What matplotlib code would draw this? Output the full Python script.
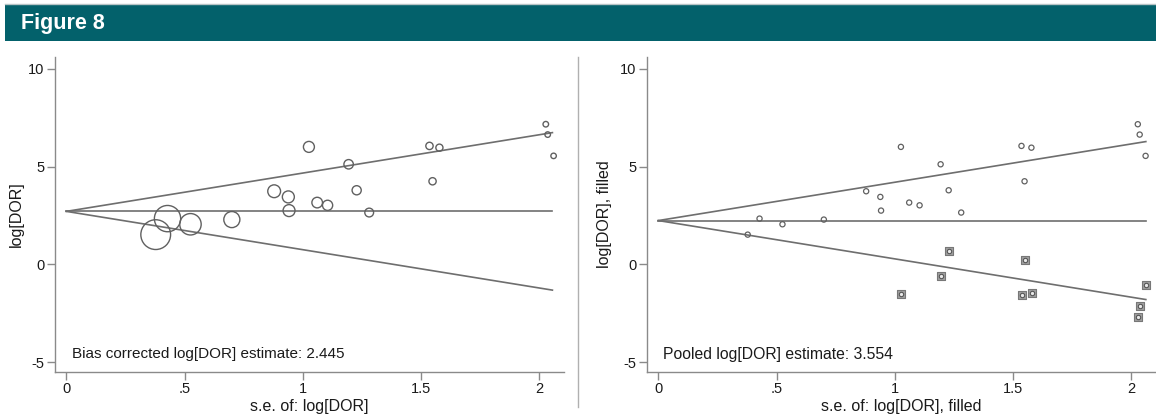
import matplotlib
matplotlib.use("Agg")
import matplotlib.pyplot as plt
from matplotlib.patches import Rectangle
from matplotlib.lines import Line2D
import numpy as np

# ---- data ----
se_obs = [0.378, 0.428, 0.525, 0.700, 0.879, 0.939, 0.942, 1.026, 1.061, 1.105,
          1.194, 1.228, 1.281, 1.536, 1.549, 1.578, 2.028, 2.036, 2.061]
logdor_obs = [1.52, 2.34, 2.05, 2.29, 3.74, 3.45, 2.75, 6.01, 3.16, 3.02,
              5.12, 3.79, 2.65, 6.06, 4.25, 5.97, 7.17, 6.64, 5.55]
se_fill = [1.028, 1.194, 1.228, 1.538, 1.549, 1.580, 2.028, 2.036, 2.062]
logdor_fill = [-1.50, -0.61, 0.70, -1.55, 0.24, -1.48, -2.68, -2.15, -1.08]

center_left = 2.71
center_right = 2.24
line_end_left = 2.056
line_end_right = 2.062
z = 1.96

xticks = [0, 0.5, 1, 1.5, 2]
xticklabels = ["0", ".5", "1", "1.5", "2"]
yticks = [-5, 0, 5, 10]
yticklabels = ["-5", "0", "5", "10"]

W, H = 1156, 417
fig = plt.figure(figsize=(W / 100, H / 100), dpi=100)
plt.rcParams['font.family'] = ['Liberation Sans', 'DejaVu Sans']

AXC = '#8a8a8a'
LC = '#6e6e6e'
TXT = '#1a1a1a'

# header
fig.add_artist(Rectangle((5 / W, 1 - 40.5 / H), (W - 5) / W, 36.5 / H,
                         transform=fig.transFigure, facecolor='#03616b',
                         edgecolor='none'))
fig.add_artist(Line2D([5 / W, 1], [1 - 3.8 / H, 1 - 3.8 / H], transform=fig.transFigure,
                      color='#b8c4c6', lw=1.0))
fig.text(21 / W, 1 - 23 / H, "Figure 8", color='white', fontsize=15.5, fontweight='bold',
         family=['Liberation Sans Narrow', 'Liberation Sans'], va='center', ha='left')

# separator
fig.add_artist(Line2D([578 / W, 578 / W], [1 - 57 / H, 1 - 407 / H], transform=fig.transFigure,
                      color='#b0b0b0', lw=1.0))

xlim = (-0.048, 2.105)
ylim = (-5.51, 10.61)


def style(ax, xlabel, ylabel, ylab_x):
    ax.set_xlim(*xlim)
    ax.set_ylim(*ylim)
    for s in ['top', 'right']:
        ax.spines[s].set_visible(False)
    for s in ['left', 'bottom']:
        ax.spines[s].set_color(AXC)
        ax.spines[s].set_linewidth(1.0)
    ax.set_xticks(xticks)
    ax.set_xticklabels(xticklabels)
    ax.set_yticks(yticks)
    ax.set_yticklabels(yticklabels)
    ax.tick_params(colors=AXC, labelcolor=TXT, labelsize=10.5, length=5.5, width=1.0, pad=2)
    ax.set_xlabel(xlabel, fontsize=11.5, color=TXT, labelpad=2)
    ax.set_ylabel(ylabel, fontsize=11.5, color=TXT)
    ax.yaxis.set_label_coords(ylab_x, 0.5)


# left panel
ax1 = fig.add_axes([55 / W, 45 / H, 509 / W, 315 / H])
xs = np.array([0, line_end_left])
ax1.plot(xs, [center_left, center_left], color=LC, lw=1.2)
ax1.plot(xs, center_left + z * xs, color=LC, lw=1.2)
ax1.plot(xs, center_left - z * xs, color=LC, lw=1.2)
se = np.array(se_obs)
ax1.scatter(se_obs, logdor_obs, s=(8.1 / se) ** 2, facecolors='none',
            edgecolors='#606060', linewidths=1.0, zorder=3)
style(ax1, "s.e. of: log[DOR]", "log[DOR]", -0.062)
ax1.text(0.025, -4.6, "Bias corrected log[DOR] estimate: 2.445", fontsize=11,
         color=TXT, va='center', ha='left')

# right panel
ax2 = fig.add_axes([647 / W, 45 / H, 509 / W, 315 / H])
xs = np.array([0, line_end_right])
ax2.plot(xs, [center_right, center_right], color=LC, lw=1.2)
ax2.plot(xs, center_right + z * xs, color=LC, lw=1.2)
ax2.plot(xs, center_right - z * xs, color=LC, lw=1.2)
ax2.scatter(se_obs, logdor_obs, s=14, facecolors='none', edgecolors='#606060',
            linewidths=0.9, zorder=3)
ax2.scatter(se_fill, logdor_fill, s=40, marker='s', facecolors='#a0a0a0',
            edgecolors='#777777', linewidths=0.8, zorder=3)
ax2.scatter(se_fill, logdor_fill, s=10, facecolors='#e8e8e8', edgecolors='#555555',
            linewidths=0.8, zorder=4)
style(ax2, "s.e. of: log[DOR], filled", "log[DOR], filled", -0.068)
ax2.text(0.02, -4.6, "Pooled log[DOR] estimate: 3.554", fontsize=11.3,
         color=TXT, va='center', ha='left')

fig.savefig("out.png", dpi=100)
